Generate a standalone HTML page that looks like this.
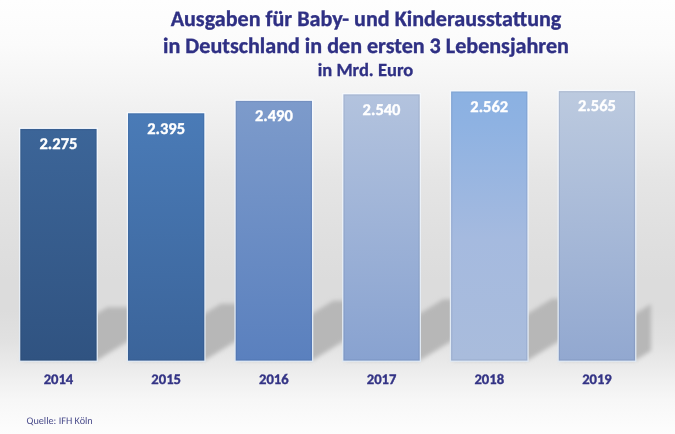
<!DOCTYPE html>
<html><head><meta charset="utf-8"><style>
html,body{margin:0;padding:0;width:675px;height:434px;overflow:hidden;background:#fff}
svg{display:block}
text{font-family:Carlito,"Liberation Sans",sans-serif;font-weight:bold;text-rendering:geometricPrecision}
.t{fill:#2f3084;stroke:#2f3084;stroke-width:0.35px;font-size:22.1px;text-anchor:middle}
.s{fill:#2f3084;stroke:#2f3084;stroke-width:0.3px;font-size:18.5px;text-anchor:middle}
.v{fill:#ffffff;stroke:#ffffff;stroke-width:0.35px;font-size:16.5px;text-anchor:middle}
.y{fill:#333385;stroke:#333385;stroke-width:0.35px;font-size:14.6px;text-anchor:middle}
.q{fill:#4b4d8c;font-size:10.2px;font-weight:normal}
</style></head><body>
<svg width="675" height="434" viewBox="0 0 675 434">
<defs>
<linearGradient id="bg" x1="0" y1="0" x2="0" y2="434" gradientUnits="userSpaceOnUse"><stop offset="0.0000" stop-color="#fefefe"/><stop offset="0.1037" stop-color="#fbfbfb"/><stop offset="0.2074" stop-color="#f4f4f4"/><stop offset="0.2995" stop-color="#ededed"/><stop offset="0.4147" stop-color="#e5e5e5"/><stop offset="0.5300" stop-color="#e0e0e0"/><stop offset="0.6452" stop-color="#dcdcdc"/><stop offset="0.7143" stop-color="#dcdcdc"/><stop offset="0.7834" stop-color="#e1e1e1"/><stop offset="0.8341" stop-color="#e9e9e9"/><stop offset="0.8756" stop-color="#f0f0f0"/><stop offset="0.9217" stop-color="#f7f7f7"/><stop offset="1.0000" stop-color="#fdfdfd"/></linearGradient>
<linearGradient id="g0" x1="0" y1="0" x2="0" y2="1"><stop offset="0" stop-color="#3c6598"/><stop offset="1" stop-color="#305381"/></linearGradient><linearGradient id="g1" x1="0" y1="0" x2="0" y2="1"><stop offset="0" stop-color="#4a7bb7"/><stop offset="1" stop-color="#3b649a"/></linearGradient><linearGradient id="g2" x1="0" y1="0" x2="0" y2="1"><stop offset="0" stop-color="#7d9bcb"/><stop offset="1" stop-color="#5a80be"/></linearGradient><linearGradient id="g3" x1="0" y1="0" x2="0" y2="1"><stop offset="0" stop-color="#b3c3de"/><stop offset="1" stop-color="#88a2d0"/></linearGradient><linearGradient id="g4" x1="0" y1="0" x2="0" y2="1"><stop offset="0" stop-color="#8bb1e2"/><stop offset="0.12" stop-color="#8eb2e2"/><stop offset="0.55" stop-color="#a5badf"/><stop offset="1" stop-color="#a9bcdc"/></linearGradient><linearGradient id="g5" x1="0" y1="0" x2="0" y2="1"><stop offset="0" stop-color="#bccadf"/><stop offset="1" stop-color="#92a8d0"/></linearGradient>
<linearGradient id="bd" x1="0" y1="0" x2="0" y2="1"><stop offset="0" stop-color="#f6f9fd"/><stop offset="1" stop-color="#e0e9f3"/></linearGradient>
<filter id="blur" x="-20%" y="-20%" width="140%" height="140%"><feGaussianBlur stdDeviation="2.2"/></filter>
<clipPath id="clip"><rect x="0" y="0" width="651" height="434"/></clipPath>
</defs>
<rect width="675" height="434" fill="url(#bg)"/>
<g filter="url(#blur)"><g fill="#b7b7b7" clip-path="url(#clip)"><polygon points="20.30,360.6 96.60,360.6 183.45,307.32 107.15,307.32"/><polygon points="128.00,360.6 204.30,360.6 297.02,303.72 220.72,303.72"/><polygon points="235.70,360.6 312.00,360.6 409.37,300.87 333.07,300.87"/><polygon points="343.40,360.6 419.70,360.6 519.51,299.37 443.21,299.37"/><polygon points="451.10,360.6 527.40,360.6 628.29,298.71 551.99,298.71"/><polygon points="558.80,360.6 635.10,360.6 736.14,298.62 659.84,298.62"/></g></g>
<rect x="19.00" y="127.65" width="78.90" height="234.25" fill="url(#bd)"/><rect x="20.30" y="128.95" width="76.3" height="231.65" fill="url(#g0)"/><rect x="20.90" y="129.55" width="75.10" height="230.45" fill="none" stroke="#101840" stroke-opacity="0.08" stroke-width="1.2"/><rect x="126.70" y="111.99" width="78.90" height="249.91" fill="url(#bd)"/><rect x="128.00" y="113.29" width="76.3" height="247.31" fill="url(#g1)"/><rect x="128.60" y="113.89" width="75.10" height="246.11" fill="none" stroke="#101840" stroke-opacity="0.08" stroke-width="1.2"/><rect x="234.40" y="99.59" width="78.90" height="262.31" fill="url(#bd)"/><rect x="235.70" y="100.89" width="76.3" height="259.71" fill="url(#g2)"/><rect x="236.30" y="101.49" width="75.10" height="258.51" fill="none" stroke="#101840" stroke-opacity="0.08" stroke-width="1.2"/><rect x="342.10" y="93.06" width="78.90" height="268.84" fill="url(#bd)"/><rect x="343.40" y="94.36" width="76.3" height="266.24" fill="url(#g3)"/><rect x="344.00" y="94.96" width="75.10" height="265.04" fill="none" stroke="#101840" stroke-opacity="0.08" stroke-width="1.2"/><rect x="449.80" y="90.19" width="78.90" height="271.71" fill="url(#bd)"/><rect x="451.10" y="91.49" width="76.3" height="269.11" fill="url(#g4)"/><rect x="451.70" y="92.09" width="75.10" height="267.91" fill="none" stroke="#101840" stroke-opacity="0.08" stroke-width="1.2"/><rect x="557.50" y="89.80" width="78.90" height="272.10" fill="url(#bd)"/><rect x="558.80" y="91.10" width="76.3" height="269.50" fill="url(#g5)"/><rect x="559.40" y="91.70" width="75.10" height="268.30" fill="none" stroke="#101840" stroke-opacity="0.08" stroke-width="1.2"/>
<text x="366" y="26" class="t" textLength="390.72" lengthAdjust="spacingAndGlyphs">Ausgaben für Baby- und Kinderausstattung</text>
<text x="366" y="53.2" class="t" textLength="405.84" lengthAdjust="spacingAndGlyphs">in Deutschland in den ersten 3 Lebensjahren</text>
<text x="365.5" y="76" class="s" textLength="95.48" lengthAdjust="spacingAndGlyphs">in Mrd. Euro</text>
<text x="58.45" y="149.25" class="v" textLength="37.87" lengthAdjust="spacingAndGlyphs">2.275</text><text x="58.45" y="384.3" class="y" textLength="29.61" lengthAdjust="spacingAndGlyphs">2014</text><text x="166.15" y="133.59" class="v" textLength="37.87" lengthAdjust="spacingAndGlyphs">2.395</text><text x="166.15" y="384.3" class="y" textLength="29.61" lengthAdjust="spacingAndGlyphs">2015</text><text x="273.85" y="121.19" class="v" textLength="37.87" lengthAdjust="spacingAndGlyphs">2.490</text><text x="273.85" y="384.3" class="y" textLength="29.61" lengthAdjust="spacingAndGlyphs">2016</text><text x="381.55" y="114.66" class="v" textLength="37.87" lengthAdjust="spacingAndGlyphs">2.540</text><text x="381.55" y="384.3" class="y" textLength="29.61" lengthAdjust="spacingAndGlyphs">2017</text><text x="489.25" y="111.79" class="v" textLength="37.87" lengthAdjust="spacingAndGlyphs">2.562</text><text x="489.25" y="384.3" class="y" textLength="29.61" lengthAdjust="spacingAndGlyphs">2018</text><text x="596.95" y="111.40" class="v" textLength="37.87" lengthAdjust="spacingAndGlyphs">2.565</text><text x="596.95" y="384.3" class="y" textLength="29.61" lengthAdjust="spacingAndGlyphs">2019</text>
<text x="26.6" y="424" class="q" textLength="66.13" lengthAdjust="spacingAndGlyphs">Quelle: IFH Köln</text>
</svg>
</body></html>
